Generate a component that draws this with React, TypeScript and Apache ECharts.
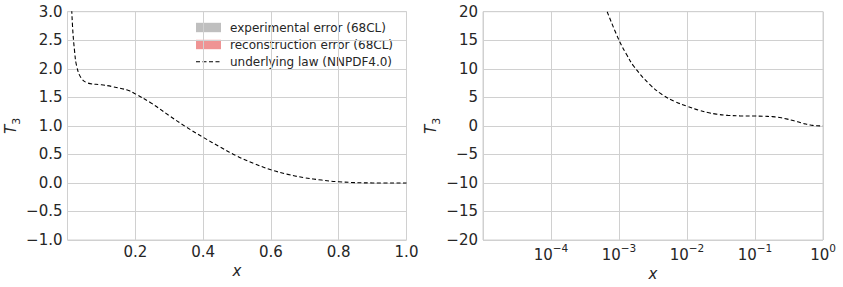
import React, { useEffect, useRef } from "react";
import * as echarts from "echarts";

// underlying law (NNPDF4.0), T3 vs x
const xs = [0.00067, 0.001, 0.00128, 0.00166, 0.0028, 0.0044, 0.0065, 0.01, 0.0148, 0.021, 0.027, 0.04, 0.06, 0.1, 0.13, 0.18, 0.2, 0.244, 0.3, 0.35, 0.4, 0.45, 0.5, 0.55, 0.6, 0.65, 0.7, 0.75, 0.8, 0.9, 1.0];
const t3 = [20, 15, 12.6, 10.4, 7.3, 5.4, 4.3, 3.45, 2.75, 2.3, 2.05, 1.84, 1.75, 1.72, 1.69, 1.62, 1.56, 1.41, 1.18, 0.98, 0.8, 0.63, 0.47, 0.34, 0.23, 0.15, 0.09, 0.05, 0.02, 0.0, 0.0];

const legendLabels = ["experimental error (68CL)", "reconstruction error (68CL)", "underlying law (NNPDF4.0)"];
const legendColors = ["#bfbfbf", "#ef9494", "#000000"];

const FONT = "DejaVu Sans";
const TXT = "#262626";
const GRID = "#d0d0d0";

const minus = (s: string) => s.replace("-", "\u2212");

export default function App() {
  const ref = useRef<HTMLDivElement>(null);
  useEffect(() => {
    if (!ref.current) return;
    const chart = echarts.init(ref.current, undefined, { renderer: "svg" });
    const data = xs.map((x, i) => [x, t3[i]]);
    const gridTop = 11.7;
    const gridH = 228.3;
    const yName = {
      name: "{i|T}{s|3}",
      nameLocation: "middle" as const,
      nameRotate: 90,
      nameTextStyle: {
        color: TXT,
        fontFamily: FONT,
        rich: {
          i: { fontStyle: "italic", fontSize: 15, fontFamily: FONT, color: TXT, lineHeight: 22, verticalAlign: "middle" },
          s: { fontSize: 11, fontFamily: FONT, color: TXT, lineHeight: 22, verticalAlign: "bottom", padding: [8, 0, 0, 0] },
        },
      },
    };
    const axisLabelBase = { color: TXT, fontFamily: FONT, fontSize: 15 };
    const splitLine = { show: true, lineStyle: { color: GRID, width: 1 } };
    const xName = {
      name: "x",
      nameLocation: "middle" as const,
      nameGap: 22,
      nameTextStyle: { color: TXT, fontFamily: FONT, fontSize: 15, fontStyle: "italic" },
    };
    const supDigits = (n: number) => minus(String(n));

    const legendGraphics: any[] = [];
    const rowsY = [27.5, 44.5, 61.7];
    legendLabels.forEach((lab, i) => {
      if (i < 2) {
        legendGraphics.push({
          type: "rect",
          shape: { x: 196, y: rowsY[i] - 4.7, width: 25, height: 9.4 },
          style: { fill: legendColors[i] },
        });
      } else {
        legendGraphics.push({
          type: "line",
          shape: { x1: 196, y1: rowsY[i], x2: 221, y2: rowsY[i] },
          style: { stroke: legendColors[i], lineWidth: 1.1, lineDash: [4, 2.5] },
        });
      }
      legendGraphics.push({
        type: "text",
        x: 230,
        y: rowsY[i],
        style: { text: lab, fill: TXT, fontSize: 12, fontFamily: FONT, verticalAlign: "middle", align: "left" },
      });
    });

    const lineSeries = (i: number) => ({
      name: legendLabels[2] + (i ? " " : ""),
      type: "line",
      xAxisIndex: i,
      yAxisIndex: i,
      data,
      showSymbol: false,
      symbol: "none",
      smooth: 0.4,
      clip: true,
      lineStyle: { color: "#000", width: 1.1, type: [4, 2.5] },
    });

    chart.setOption({
      animation: false,
      backgroundColor: "#ffffff",
      grid: [
        { left: 67.5, top: gridTop, width: 339, height: gridH, show: true, borderColor: GRID, borderWidth: 1, containLabel: false },
        { left: 483, top: gridTop, width: 340, height: gridH, show: true, borderColor: GRID, borderWidth: 1, containLabel: false },
      ],
      xAxis: [
        {
          gridIndex: 0,
          type: "value",
          min: 0,
          max: 1,
          interval: 0.2,
          axisLine: { show: false },
          axisTick: { show: false },
          splitLine,
          axisLabel: { ...axisLabelBase, margin: 4, showMinLabel: false, formatter: (v: number) => (v === 0 ? "" : v.toFixed(1)) },
          ...xName,
        },
        {
          gridIndex: 1,
          type: "log",
          logBase: 10,
          min: 1e-5,
          max: 1,
          axisLine: { show: false },
          axisTick: { show: false },
          minorTick: { show: false },
          splitLine,
          axisLabel: {
            ...axisLabelBase,
            margin: 2,
            showMinLabel: false,
            formatter: (v: number) => {
              const e = Math.round(Math.log10(v));
              if (e <= -5) return "";
              return `{b|10}{p|${supDigits(e)}}`;
            },
            rich: {
              b: { fontSize: 15, fontFamily: FONT, color: TXT, lineHeight: 20, verticalAlign: "bottom" },
              p: { fontSize: 10.5, fontFamily: FONT, color: TXT, lineHeight: 20, verticalAlign: "top", padding: [0, 0, 9, 0] },
            },
          },
          ...xName,
        },
      ],
      yAxis: [
        {
          gridIndex: 0,
          type: "value",
          min: -1,
          max: 3,
          interval: 0.5,
          axisLine: { show: false },
          axisTick: { show: false },
          splitLine,
          axisLabel: { ...axisLabelBase, margin: 5, formatter: (v: number) => minus(v.toFixed(1)) },
          ...yName,
          nameGap: 43,
        },
        {
          gridIndex: 1,
          type: "value",
          min: -20,
          max: 20,
          interval: 5,
          axisLine: { show: false },
          axisTick: { show: false },
          splitLine,
          axisLabel: { ...axisLabelBase, margin: 5, formatter: (v: number) => minus(String(v)) },
          ...yName,
          nameGap: 37,
        },
      ],
      series: [lineSeries(0), lineSeries(1)],
      graphic: legendGraphics,
    });
    return () => chart.dispose();
  }, []);
  return <div ref={ref} style={{ position: "fixed", left: 0, top: 0, width: 843, height: 287 }} />;
}
